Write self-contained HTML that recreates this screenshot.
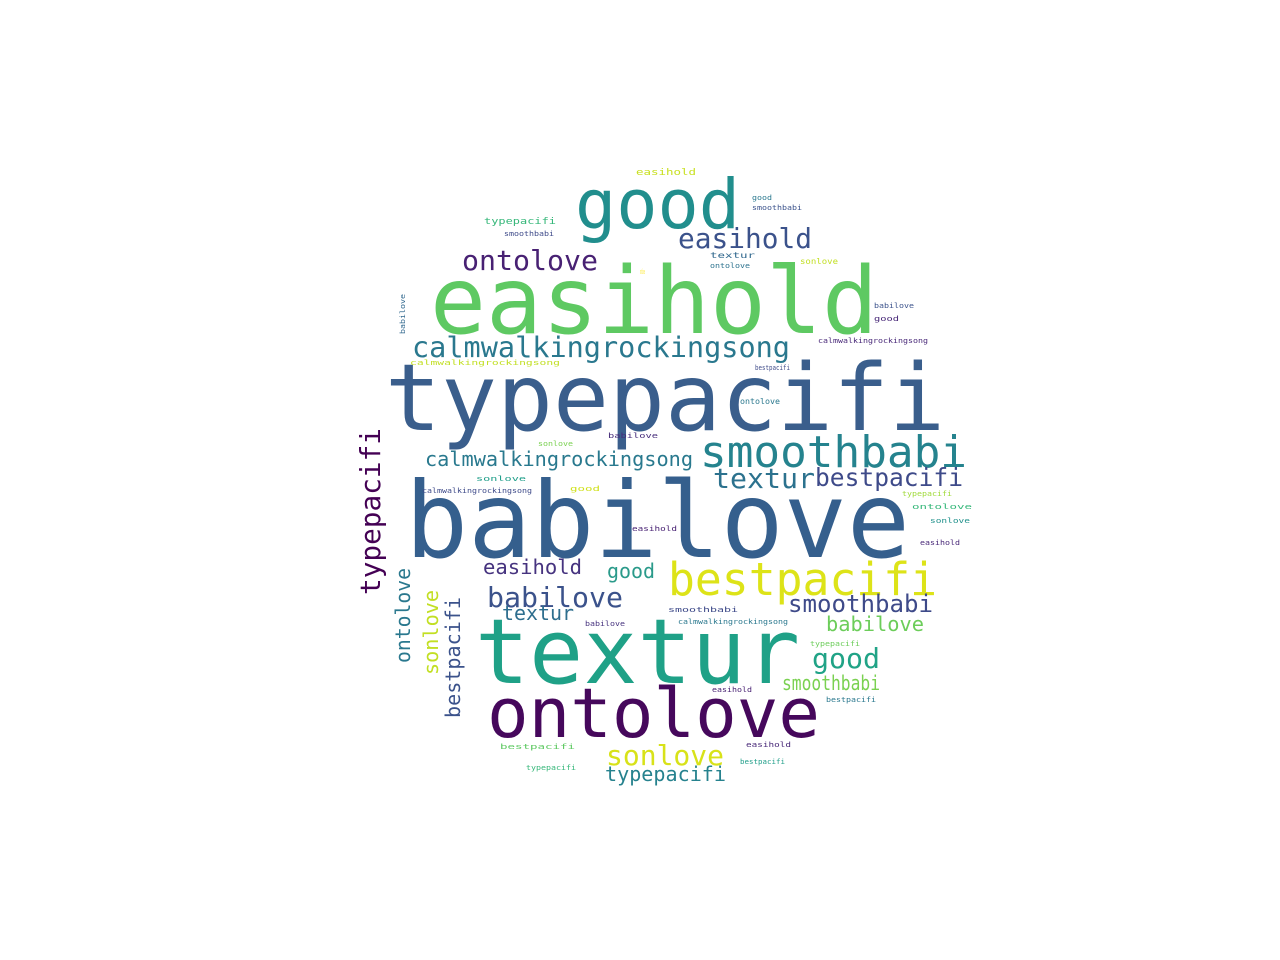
<!DOCTYPE html>
<html><head><meta charset="utf-8"><style>
html,body{margin:0;padding:0;background:#fff;width:1280px;height:960px;overflow:hidden}
text{font-family:"DejaVu Sans Mono","Liberation Mono",monospace}
</style></head><body>
<svg id="cloud" width="1280" height="960" viewBox="0 0 1280 960" xmlns="http://www.w3.org/2000/svg"></svg>
<script>
// words, font sizes, colours; layout: [x, baseline y, width, rotated]
const words = ["typepacifi","babilove","easihold","textur","ontolove","good","smoothbabi","bestpacifi",
 "calmwalkingrockingsong","calmwalkingrockingsong","easihold","ontolove","textur","bestpacifi",
 "typepacifi","babilove","easihold","good","smoothbabi","babilove","good","smoothbabi","textur",
 "sonlove","typepacifi","ontolove","sonlove","bestpacifi",
 "easihold","typepacifi","smoothbabi","good","smoothbabi","textur","ontolove","sonlove","babilove","good",
 "calmwalkingrockingsong","calmwalkingrockingsong","bestpacifi","ontolove","sonlove","sonlove","calmwalkingrockingsong",
 "good","easihold","ontolove","typepacifi","sonlove","easihold","smoothbabi","calmwalkingrockingsong","babilove",
 "typepacifi","easihold","bestpacifi","bestpacifi","typepacifi","easihold","bestpacifi","babilove","ontolove","babilove"];
const sizes = [93,105,93,90,69,69,44,45,28.5,20,28,28,28,24.6,28,28,20.6,20,24,20,28,20,20,28,20,20,20,20,
 9,9,7,7,7,8,7,8,7,7,7,7,7,8,7,7,7,7,7,7,7,7,7,7,7,7,7,7,7,7,7,7,7,7,7,7];
const colors = ["#3a5e8c","#355f8d","#5ec962","#1fa187","#46085c","#218e8d","#25838e","#dde318",
 "#2a788e","#29798e","#3b528b","#482173","#2c728e","#3e4a89","#440154","#3b528b","#46337f","#2a9a8a",
 "#3e4a89","#6ccd5a","#20a386","#7ad151","#2e6e8e","#d8e219","#26828e","#2a788e","#c2df23","#3b528b",
 "#c8e020","#35b779","#3e4a89","#2a788e","#3b528b","#31688e","#2c728e","#c2df23","#3b528b","#482878",
 "#482878","#c2df23","#3e4a89","#2a788e","#7ad151","#1f9e89","#3e4a89","#d0e11c","#482173","#35b779",
 "#a0da39","#21918c","#482878","#3e4a89","#2a788e","#46327e","#6ccd5a","#482173","#2a788e","#5ec962",
 "#35b779","#482878","#1f9e89","#472d7b","#fde725","#31688e"];
const layout = [
 [385,430,560,0],[405,557,505,0],[430,333,448,0],[475,683,325,0],[487,737,333,0],[575,228,165,0],
 [700,467,267,0],[668,595,269,0],[412,357,378,0],[425,466,268,0],[678,248,134,0],[462,270,136,0],
 [713,488,102,0],[815,486,148,0],[380,595,167,1],[487,607,136,0],[483,574,99,0],[607,578,48,0],
 [788,612,145,0],[826,631,98,0],[812,668,68,0],[782,690,98,0],[502,620,72,0],[606,765,118,0],
 [605,781,121,0],[410,663,95,1],[438,675,85,1],[460,718,121,1],
 [636,175,60,0],[484,224,72,0],[504,236,50,0],[752,200,20,0],[752,210,50,0],[710,258,45,0],[710,268,40,0],
 [800,264,38,0],[874,308,40,0],[874,321,25,0],[818,343,110,0],[410,365,150,0],[755,370,35,0],
 [740,404,40,0],[538,446,35,0],[476,481,50,0],[422,493,110,0],[570,491,30,0],[632,531,45,0],[912,509,60,0],
 [902,496,50,0],[930,523,40,0],[920,545,40,0],[668,612,70,0],[678,624,110,0],[585,626,40,0],
 [810,646,50,0],[712,692,40,0],[826,702,50,0],[500,749,75,0],[526,770,50,0],[746,747,45,0],
 [740,764,45,0],[608,438,50,0],[640,274,5,0],[405,334,40,1]];
const svg = document.getElementById('cloud');
const NS = 'http://www.w3.org/2000/svg';
words.forEach((w,i)=>{
  const [x,y,len,rot] = layout[i];
  const t = document.createElementNS(NS,'text');
  
  
  t.setAttribute('font-size', sizes[i]);
  t.setAttribute('fill', colors[i]);
  t.setAttribute('textLength', len);
  t.setAttribute('lengthAdjust', 'spacingAndGlyphs');
  t.setAttribute('x', x);
  t.setAttribute('y', y);
  if (rot) t.setAttribute('transform', 'rotate(-90 ' + x + ' ' + y + ')');
  if (rot) { t.setAttribute('x', x); }
  t.textContent = w;
  svg.appendChild(t);
});
// fix rotated words: text runs upward from (x,y), baseline at x
</script>
</body></html>
